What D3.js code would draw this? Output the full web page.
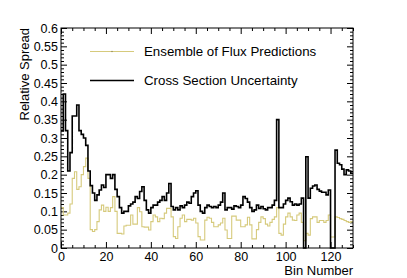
<!DOCTYPE html>
<html><head><meta charset="utf-8">
<script src="https://cdn.jsdelivr.net/npm/d3@7"></script>
<style>html,body{margin:0;padding:0;background:#fff;}svg{display:block;font-family:"Liberation Sans",Arial,sans-serif;}</style>
</head><body>
<script>
const nBins = 130;
const seriesNames = ["Ensemble of Flux Predictions", "Cross Section Uncertainty"];
const fluxSpread = [
0.11,0.09,0.09,0.095,0.12,0.19,0.208,0.16,0.167,0.2,
0.222,0.245,0.19,0.05,0.045,0.05,0.072,0.104,0.117,0.1,
0.111,0.1,0.11,0.14,0.1,0.04,0.04,0.038,0.06,0.062,
0.062,0.09,0.065,0.065,0.11,0.099,0.058,0.057,0.057,0.049,
0.072,0.09,0.085,0.072,0.081,0.08,0.095,0.108,0.108,0.085,
0.031,0.026,0.058,0.081,0.09,0.072,0.078,0.078,0.076,0.081,
0.068,0.031,0.022,0.022,0.076,0.084,0.081,0.07,0.058,0.058,
0.063,0.068,0.081,0.049,0.026,0.026,0.087,0.087,0.076,0.076,
0.058,0.058,0.063,0.084,0.063,0.025,0.025,0.05,0.07,0.085,
0.08,0.065,0.06,0.07,0.078,0.085,0.11,0.04,0.035,0.065,
0.085,0.095,0.085,0.076,0.075,0.09,0.095,0.07,0.02,0.04,
0.035,0.08,0.085,0.085,0.07,0.075,0.075,0.07,0.075,0.09,
0.03,0.03,0.085,0.083,0.08,0.078,0.075,0.072,0.07,0.072];
const xsecSpread = [
0.32,0.42,0.32,0.21,0.26,0.36,0.36,0.39,0.32,0.31,
0.30,0.28,0.21,0.17,0.15,0.13,0.145,0.158,0.172,0.165,
0.2,0.2,0.19,0.2,0.16,0.14,0.11,0.095,0.1,0.1,
0.115,0.12,0.125,0.14,0.135,0.154,0.167,0.13,0.104,0.095,
0.11,0.117,0.117,0.125,0.13,0.14,0.13,0.15,0.176,0.113,
0.104,0.11,0.104,0.115,0.11,0.117,0.125,0.122,0.14,0.15,
0.156,0.117,0.1,0.095,0.11,0.117,0.113,0.11,0.113,0.11,
0.117,0.125,0.15,0.104,0.11,0.11,0.106,0.115,0.113,0.11,
0.117,0.14,0.135,0.125,0.11,0.1,0.104,0.117,0.108,0.113,
0.107,0.104,0.11,0.11,0.117,0.13,0.35,0.11,0.11,0.12,
0.13,0.136,0.126,0.117,0.12,0.117,0.12,0.136,0,0.249,
0.136,0.163,0.169,0.172,0.16,0.155,0.152,0.152,0.145,0.158,
0,0,0.267,0.231,0.227,0.215,0.2,0.213,0.21,0.204];
const yTickValues = [0,0.05,0.1,0.15,0.2,0.25,0.3,0.35,0.4,0.45,0.5,0.55,0.6];
const yTickLabels = ["0","0.05","0.1","0.15","0.2","0.25","0.3","0.35","0.4","0.45","0.5","0.55","0.6"];
const xTickValues = [0,20,40,60,80,100,120];
const xTickLabels = ["0","20","40","60","80","100","120"];

const W = 407, H = 278;
const m = {l:61, r:54, t:28, b:30};
const svg = d3.select("body").append("svg").attr("width", W).attr("height", H);
const x = d3.scaleLinear().domain([0, nBins]).range([m.l, W - m.r]);
const y = d3.scaleLinear().domain([0, 0.6]).range([H - m.b, m.t]);

const yMinor = d3.range(0, 0.6001, 0.01).filter(v => Math.abs(v/0.05 - Math.round(v/0.05)) > 1e-6);
const xMinor = d3.range(0, nBins + 0.001, 5).filter(v => v % 20 !== 0);

function styleAxis(g){ g.select(".domain").remove(); g.selectAll("line").attr("stroke","#000").attr("stroke-width",1); g.selectAll("text").attr("fill","#000").attr("font-size",12.5).attr("font-family","Liberation Sans, Arial, sans-serif"); }

svg.append("g").attr("transform",`translate(${m.l},0)`)
  .call(d3.axisLeft(y).tickValues(yTickValues).tickFormat((d,i)=>yTickLabels[i]).tickSize(-6).tickPadding(3)).call(styleAxis);
svg.append("g").attr("transform",`translate(${m.l},0)`)
  .call(d3.axisLeft(y).tickValues(yMinor).tickFormat("").tickSize(-3)).call(styleAxis);
svg.append("g").attr("transform",`translate(${W-m.r},0)`)
  .call(d3.axisRight(y).tickValues(yTickValues).tickFormat("").tickSize(-6)).call(styleAxis);
svg.append("g").attr("transform",`translate(${W-m.r},0)`)
  .call(d3.axisRight(y).tickValues(yMinor).tickFormat("").tickSize(-3)).call(styleAxis);
svg.append("g").attr("transform",`translate(0,${H-m.b})`)
  .call(d3.axisBottom(x).tickValues(xTickValues).tickFormat((d,i)=>xTickLabels[i]).tickSize(-6).tickPadding(4)).call(styleAxis);
svg.append("g").attr("transform",`translate(0,${H-m.b})`)
  .call(d3.axisBottom(x).tickValues(xMinor).tickFormat("").tickSize(-3)).call(styleAxis);
svg.append("g").attr("transform",`translate(0,${m.t})`)
  .call(d3.axisTop(x).tickValues(xTickValues).tickFormat("").tickSize(-6)).call(styleAxis);
svg.append("g").attr("transform",`translate(0,${m.t})`)
  .call(d3.axisTop(x).tickValues(xMinor).tickFormat("").tickSize(-3)).call(styleAxis);

function stepPts(vals){ const p = vals.map((v,i)=>[i,v]); p.push([vals.length, vals[vals.length-1]]); return p; }
const line = d3.line().x(d=>x(d[0])).y(d=>y(d[1])).curve(d3.curveStepAfter);
svg.append("path").attr("d", line(stepPts(fluxSpread))).attr("fill","none").attr("stroke","#d6ca7c").attr("stroke-width",1.1);
svg.append("path").attr("d", line(stepPts(xsecSpread))).attr("fill","none").attr("stroke","#000").attr("stroke-width",1.6);

svg.append("rect").attr("x",m.l).attr("y",m.t).attr("width",W-m.l-m.r).attr("height",H-m.t-m.b).attr("fill","none").attr("stroke","#000").attr("stroke-width",1);

const leg = [{c:"#d6ca7c", w:1.1, y:51.5}, {c:"#000", w:1.5, y:80.5}];
leg.forEach((d,i)=>{
  svg.append("line").attr("x1",90).attr("x2",134).attr("y1",d.y).attr("y2",d.y).attr("stroke",d.c).attr("stroke-width",d.w);
  svg.append("text").attr("x",144).attr("y",d.y+4.9).attr("font-size",13.3).attr("fill","#000").text(seriesNames[i]);
});
svg.append("circle").attr("cx",112).attr("cy",51.5).attr("r",0.7).attr("fill","#8a8050");

svg.append("text").attr("transform",`translate(29,${m.t}) rotate(-90)`).attr("text-anchor","end").attr("font-size",13).attr("fill","#000").text("Relative Spread");
svg.append("text").attr("x",W-m.r).attr("y",275).attr("text-anchor","end").attr("font-size",13).attr("fill","#000").text("Bin Number");
</script>
</body></html>
